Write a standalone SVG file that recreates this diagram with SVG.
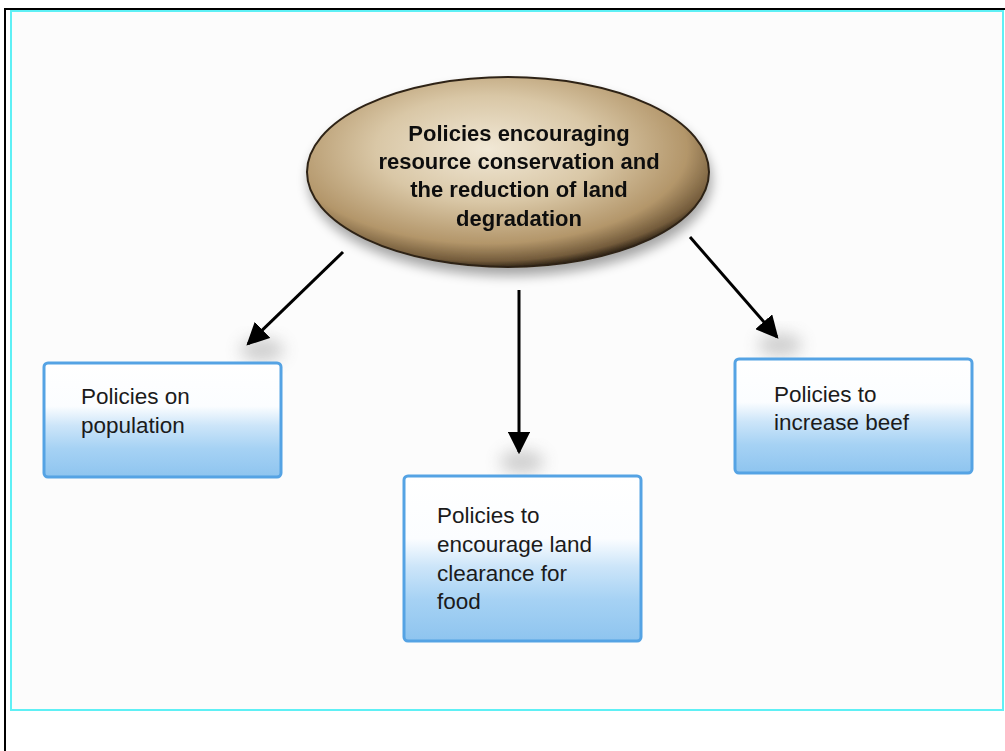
<svg xmlns="http://www.w3.org/2000/svg" width="1005" height="751" viewBox="0 0 1005 751">
  <defs>
    <style>
      .frame-outer { fill: none; stroke: #000; stroke-width: 2; }
      .frame-inner { fill: #fcfcfc; stroke: #5ff0f5; stroke-width: 2; }
      .box { fill: url(#boxFill); stroke: #55a3e4; stroke-width: 3; }
      .label { font-family: "Liberation Sans", Arial, sans-serif; font-size: 22.5px; fill: #1b1b1b; }
      .title { font-family: "Liberation Sans", Arial, sans-serif; font-size: 22px; font-weight: bold; fill: #111; text-anchor: middle; }
      .link { stroke: #000; stroke-width: 3; fill: none; marker-end: url(#head); }
      .glow { fill: #9a9a9a; opacity: 0.45; filter: url(#soft); }
    </style>
    <linearGradient id="boxFill" x1="0" y1="0" x2="0" y2="1">
      <stop offset="0" stop-color="#ffffff"/>
      <stop offset="0.38" stop-color="#fbfdff"/>
      <stop offset="0.55" stop-color="#cce5f9"/>
      <stop offset="0.75" stop-color="#a6d2f4"/>
      <stop offset="1" stop-color="#8ec4ef"/>
    </linearGradient>
    <radialGradient id="ovalFill" cx="0.45" cy="0.38" r="0.62">
      <stop offset="0" stop-color="#f1e8d6"/>
      <stop offset="0.45" stop-color="#d9c7a6"/>
      <stop offset="0.8" stop-color="#b3966a"/>
      <stop offset="0.95" stop-color="#735b3b"/>
      <stop offset="1" stop-color="#3a2c1c"/>
    </radialGradient>
    <filter id="soft" x="-50%" y="-50%" width="200%" height="200%">
      <feGaussianBlur stdDeviation="8"/>
    </filter>
    <filter id="drop" x="-20%" y="-20%" width="140%" height="150%">
      <feGaussianBlur in="SourceAlpha" stdDeviation="6"/>
      <feOffset dx="2" dy="8"/>
      <feComponentTransfer><feFuncA type="linear" slope="0.35"/></feComponentTransfer>
      <feMerge><feMergeNode/><feMergeNode in="SourceGraphic"/></feMerge>
    </filter>
    <marker id="head" viewBox="0 0 10 10" refX="9" refY="5" markerWidth="7.5" markerHeight="7.5" markerUnits="strokeWidth" orient="auto">
      <path d="M0,0 L10,5 L0,10 Z" fill="#000"/>
    </marker>
  </defs>

  <!-- page frame -->
  <rect x="0" y="0" width="1005" height="751" fill="#fff"/>
  <path class="frame-outer" d="M5,751 V9 H1005"/>
  <rect class="frame-inner" x="11" y="11" width="992" height="699"/>

  <!-- soft shading around the arrow heads -->
  <g id="shadows">
    <ellipse class="glow" cx="262" cy="350" rx="22" ry="12"/>
    <ellipse class="glow" cx="522" cy="462" rx="22" ry="12"/>
    <ellipse class="glow" cx="780" cy="345" rx="22" ry="12"/>
  </g>

  <!-- connectors -->
  <g id="connectors">
    <line class="link" x1="343" y1="252" x2="248" y2="344"/>
    <line class="link" x1="519" y1="290" x2="519" y2="452"/>
    <line class="link" x1="690" y1="237" x2="777" y2="337"/>
  </g>

  <!-- central policy goal -->
  <g id="node-goal" filter="url(#drop)">
    <ellipse cx="508" cy="172" rx="201" ry="95" fill="url(#ovalFill)" stroke="#2e2416" stroke-width="2"/>
    <text class="title" x="519" y="141">Policies encouraging</text>
    <text class="title" x="519" y="169">resource conservation and</text>
    <text class="title" x="519" y="197">the reduction of land</text>
    <text class="title" x="519" y="226">degradation</text>
  </g>

  <g id="node-population">
    <rect class="box" x="44" y="363" width="237" height="114" rx="4"/>
    <text class="label" x="81" y="404">Policies on</text>
    <text class="label" x="81" y="433">population</text>
  </g>

  <g id="node-land-clearance">
    <rect class="box" x="404" y="476" width="237" height="165" rx="4"/>
    <text class="label" x="437" y="523">Policies to</text>
    <text class="label" x="437" y="552">encourage land</text>
    <text class="label" x="437" y="581">clearance for</text>
    <text class="label" x="437" y="609">food</text>
  </g>

  <g id="node-beef">
    <rect class="box" x="735" y="359" width="237" height="114" rx="4"/>
    <text class="label" x="774" y="402">Policies to</text>
    <text class="label" x="774" y="430">increase beef</text>
  </g>
</svg>
